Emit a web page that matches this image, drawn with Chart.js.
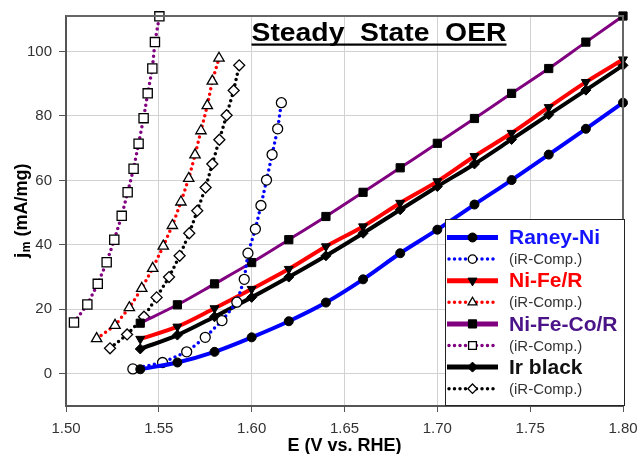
<!DOCTYPE html>
<html>
<head>
<meta charset="utf-8">
<script src="https://cdn.jsdelivr.net/npm/chart.js@4/dist/chart.umd.min.js"></script>
<style>
  html, body { margin: 0; padding: 0; background: #fff; }
  #wrap { width: 637px; height: 454px; }
</style>
</head>
<body>
<div id="wrap"><canvas id="chart" width="637" height="454"></canvas></div>
<script>
// ── Data ─────────────────────────────────────────────────────────────────────

const E = [1.54, 1.56, 1.58, 1.60, 1.62, 1.64, 1.66, 1.68, 1.70, 1.72, 1.74, 1.76, 1.78, 1.80];

const raneyNi   = [1.4, 3.5, 6.8, 11.3, 16.3, 22.1, 29.3, 37.4, 44.7, 52.5, 60.1, 68.0, 76.0, 84.1];
const raneyNiE  = [1.536, 1.552, 1.565, 1.575, 1.584, 1.592, 1.596, 1.598, 1.602, 1.605, 1.608, 1.611, 1.614, 1.616];
const raneyNiIR = [1.5, 3.5, 6.8, 11.3, 16.5, 22.2, 29.3, 37.4, 44.9, 52.2, 60.1, 68.0, 76.0, 84.1];

const niFe      = [10.8, 14.6, 20.3, 26.3, 32.5, 39.5, 45.7, 53.0, 59.7, 67.5, 74.7, 82.7, 90.5, 97.5];
const niFeE     = [1.5165, 1.5264, 1.5341, 1.5408, 1.5467, 1.5524, 1.5573, 1.5619, 1.5661, 1.5695, 1.5727, 1.5761, 1.5788, 1.5824];
const niFeIR    = [10.9, 15.0, 20.5, 26.5, 32.7, 39.6, 46.0, 53.3, 60.6, 67.9, 75.4, 83.2, 90.8, 97.9];

const niFeCo    = [15.7, 21.4, 27.9, 34.5, 41.6, 48.8, 56.3, 63.9, 71.5, 79.2, 87.0, 94.7, 102.9, 111.0];
const niFeCoE   = [1.5043, 1.5115, 1.5171, 1.5219, 1.5260, 1.5300, 1.5332, 1.5364, 1.5391, 1.5418, 1.5440, 1.5465, 1.5479, 1.5503];
const niFeCoIR  = [15.9, 21.5, 27.9, 34.6, 41.6, 49.0, 56.3, 63.6, 71.4, 79.3, 87.0, 94.7, 102.9, 110.9];

const irBlack   = [7.7, 12.0, 17.7, 23.7, 30.0, 36.6, 43.6, 50.9, 58.1, 65.1, 72.7, 80.4, 88.0, 95.7];
const irBlackE  = [1.5237, 1.5329, 1.5420, 1.5488, 1.5555, 1.5612, 1.5664, 1.5707, 1.5752, 1.5788, 1.5826, 1.5865, 1.5903, 1.5933];
const irBlackIR = [7.9, 12.2, 17.7, 23.7, 30.0, 36.6, 43.6, 50.6, 57.8, 65.1, 72.6, 80.2, 87.9, 95.7];

const yTicks = [0, 20, 40, 60, 80, 100];
const seriesNames = ['Raney-Ni', 'Ni-Fe/R', 'Ni-Fe-Co/R', 'Ir black'];
const irLabel = '(iR-Comp.)';

// ── Helpers ──────────────────────────────────────────────────────────────────

const FONT = 'Arial, "Liberation Sans", Helvetica, sans-serif';
const pts = (xs, ys) => xs.map((x, i) => ({ x: x, y: ys[i] }));

function solid(label, xs, ys, color, width, style, radius, rot) {
  return {
    label, data: pts(xs, ys), borderColor: color, borderWidth: width,
    pointStyle: style, pointRadius: radius, pointRotation: rot || 0,
    pointBackgroundColor: '#000', pointBorderColor: '#000', pointBorderWidth: 1,
    cubicInterpolationMode: 'monotone', clip: false
  };
}

function dotted(label, xs, ys, color, style, radius) {
  return {
    label, data: pts(xs, ys), borderColor: color, borderWidth: 3.5,
    borderDash: [0, 5.5], borderCapStyle: 'round',
    pointStyle: style, pointRadius: radius,
    pointBackgroundColor: '#fff', pointBorderColor: '#000', pointBorderWidth: 1.3,
    clip: false, iR: true
  };
}

const datasets = [
  solid(seriesNames[0], E, raneyNi, '#0000ff', 4, 'circle', 4.5),
  dotted(irLabel, raneyNiE, raneyNiIR, '#0000ff', 'circle', 5),
  solid(seriesNames[1], E, niFe, '#ff0000', 4, 'triangle', 5.2, 180),
  dotted(irLabel, niFeE, niFeIR, '#ff0000', 'triangle', 6),
  solid(seriesNames[2], E, niFeCo, '#800080', 3, 'rect', 5.8),
  dotted(irLabel, niFeCoE, niFeCoIR, '#800080', 'rect', 6.5),
  solid(seriesNames[3], E, irBlack, '#000000', 4, 'rectRot', 5),
  dotted(irLabel, irBlackE, irBlackIR, '#000000', 'rectRot', 5.5)
];
const legendColors = ['#1414ff', '#333', '#ff0000', '#333', '#4a1488', '#333', '#111', '#333'];

// ── Custom drawing: frame, title, y label, legend ────────────────────────────

function marker(ctx, style, x, y, r, rot, fill) {
  ctx.save();
  ctx.fillStyle = fill;
  ctx.strokeStyle = '#000';
  ctx.lineWidth = fill === '#fff' ? 1.3 : 1;
  ctx.setLineDash([]);
  ctx.translate(x, y);
  ctx.rotate((rot || 0) * Math.PI / 180);
  ctx.beginPath();
  if (style === 'circle') ctx.arc(0, 0, r, 0, Math.PI * 2);
  else if (style === 'rect') { const s = r * Math.SQRT1_2; ctx.rect(-s, -s, 2 * s, 2 * s); }
  else if (style === 'rectRot') { ctx.moveTo(0, -r); ctx.lineTo(r, 0); ctx.lineTo(0, r); ctx.lineTo(-r, 0); ctx.closePath(); }
  else if (style === 'triangle') {
    for (let k = 0; k < 3; k++) {
      const a = k * 2 * Math.PI / 3;
      k ? ctx.lineTo(Math.sin(a) * r, -Math.cos(a) * r) : ctx.moveTo(Math.sin(a) * r, -Math.cos(a) * r);
    }
    ctx.closePath();
  }
  ctx.fill();
  ctx.stroke();
  ctx.restore();
}

const decor = {
  id: 'decor',
  afterDatasetsDraw(chart) {
    const { ctx, chartArea: a } = chart;
    ctx.save();

    // top / right frame
    ctx.strokeStyle = '#666';
    ctx.lineWidth = 2;
    ctx.beginPath();
    ctx.moveTo(a.left, a.top); ctx.lineTo(a.right, a.top); ctx.lineTo(a.right, a.bottom);
    ctx.stroke();

    // title
    ctx.fillStyle = '#000';
    ctx.font = 'bold 26px ' + FONT;
    ctx.textBaseline = 'alphabetic';
    const title = 'Steady  State  OER';
    const tw = ctx.measureText(title).width;
    ctx.save();
    ctx.translate(251.5, 40.5);
    ctx.scale(255 / tw, 1);
    ctx.fillText(title, 0, 0);
    ctx.restore();
    ctx.fillRect(251.5, 43.5, 255, 2.2);

    // y axis label: j_m (mA/mg)
    ctx.save();
    ctx.translate(27, 258);
    ctx.rotate(-Math.PI / 2);
    ctx.font = 'bold 19px ' + FONT;
    ctx.fillText('j', 0, 0);
    let off = ctx.measureText('j').width;
    ctx.font = 'bold 12px ' + FONT;
    ctx.fillText('m', off + 0.5, 3);
    off += ctx.measureText('m').width + 0.5;
    ctx.font = 'bold 18px ' + FONT;
    ctx.fillText(' (mA/mg)', off, 0);
    ctx.restore();

    // legend box
    const bx = 445, by = 219, bw = 179, bh = 186;
    ctx.fillStyle = '#fff';
    ctx.fillRect(bx, by, bw, bh);
    ctx.strokeStyle = '#222';
    ctx.lineWidth = 1;
    ctx.strokeRect(bx + 0.5, by + 0.5, bw, bh);

    datasets.forEach((ds, i) => {
      const y = 237.5 + i * 21.6;
      ctx.save();
      ctx.strokeStyle = ds.borderColor;
      ctx.lineCap = ds.iR ? 'round' : 'butt';
      ctx.lineWidth = ds.iR ? 3.5 : 5;
      ctx.setLineDash(ds.iR ? [0, 5.5] : []);
      ctx.beginPath();
      ctx.moveTo(ds.iR ? 449 : 447, y);
      ctx.lineTo(498, y);
      ctx.stroke();
      ctx.restore();
      marker(ctx, ds.pointStyle, 472.5, y, ds.iR ? ds.pointRadius * 0.85 : ds.pointRadius, ds.pointRotation, ds.pointBackgroundColor);

      ctx.fillStyle = legendColors[i];
      ctx.textBaseline = 'middle';
      ctx.font = ds.iR ? '15px ' + FONT : 'bold 21px ' + FONT;
      ctx.fillText(ds.label, 509, y + 1);
    });

    ctx.restore();
  }
};

// ── Chart ────────────────────────────────────────────────────────────────────

new Chart(document.getElementById('chart'), {
  type: 'line',
  data: { datasets },
  plugins: [decor],
  options: {
    responsive: false,
    maintainAspectRatio: false,
    animation: false,
    devicePixelRatio: 1,
    layout: { padding: { left: 0, top: 16, right: 14, bottom: 0 } },
    plugins: { legend: { display: false }, tooltip: { enabled: false } },
    scales: {
      x: {
        type: 'linear', min: 1.5, max: 1.8,
        ticks: { stepSize: 0.05, color: '#333', padding: 8, font: { size: 15, family: FONT },
                 callback: v => Number(v).toFixed(2) },
        grid: { color: '#d2d2d2', lineWidth: 1, tickLength: 6, tickColor: '#555' },
        border: { color: '#555', width: 2 },
        title: { display: true, text: 'E (V vs. RHE)', color: '#000',
                 font: { size: 18, weight: 'bold', family: FONT }, padding: { top: 0, bottom: -3 } },
        afterFit: s => { s.height = 48; s.paddingLeft = 0; s.paddingRight = 0; }
      },
      y: {
        type: 'linear', min: -10, max: 111,
        afterBuildTicks: s => { s.ticks = yTicks.map(v => ({ value: v })); },
        ticks: { color: '#333', padding: 7, font: { size: 15, family: FONT } },
        grid: { color: '#d2d2d2', lineWidth: 1, tickLength: 7, tickColor: '#555' },
        border: { color: '#555', width: 2 },
        afterFit: s => { s.width = 66; s.paddingTop = 0; s.paddingBottom = 0; }
      }
    }
  }
});
</script>
</body>
</html>
